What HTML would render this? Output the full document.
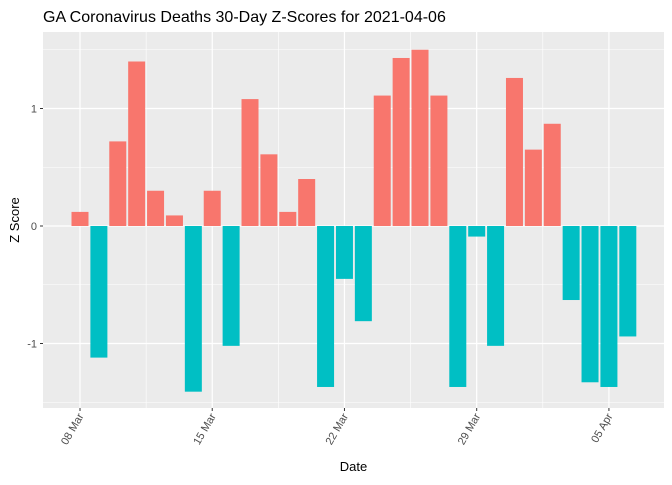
<!DOCTYPE html>
<html><head><meta charset="utf-8"><style>
body{margin:0;background:#fff;font-family:"Liberation Sans",sans-serif}
</style></head><body>
<svg id="c" width="672" height="480" xmlns="http://www.w3.org/2000/svg"></svg>
<script>
const values=[0.12,-1.12,0.72,1.40,0.30,0.09,-1.41,0.30,-1.02,1.08,0.61,0.12,0.40,-1.37,-0.45,-0.81,1.11,1.43,1.50,1.11,-1.37,-0.09,-1.02,1.26,0.65,0.87,-0.63,-1.33,-1.37,-0.94];
const yTicks=[-1,0,1];
const xTickLabels=["08 Mar","15 Mar","22 Mar","29 Mar","05 Apr"];
const xTickDays=[0,7,14,21,28];
const NS="http://www.w3.org/2000/svg";
const svg=document.getElementById('c');
const L=43,R=664,T=32,B=408;
const x=d=>80+d*18.89;
const y=v=>226-v*117.5;
function mk(t,a,p){const e=document.createElementNS(NS,t);for(const k in a)e.setAttribute(k,a[k]);(p||svg).appendChild(e);return e;}
const panel=mk('rect',{x:L,y:T,width:R-L,height:B-T,fill:'#ebebeb'});


// minor grid
for(const v of [-1.5,-0.5,0.5,1.5]){mk('line',{x1:L,x2:R,y1:y(v),y2:y(v),stroke:'#fff','stroke-width':0.6});}
for(let i=0;i<xTickDays.length+1;i++){const d=xTickDays[0]-3.5+i*7;const xx=x(d);if(xx>L&&xx<R)mk('line',{x1:xx,x2:xx,y1:T,y2:B,stroke:'#fff','stroke-width':0.6});}
// major grid
for(const v of yTicks){mk('line',{x1:L,x2:R,y1:y(v),y2:y(v),stroke:'#fff','stroke-width':1.2});}
for(const d of xTickDays){mk('line',{x1:x(d),x2:x(d),y1:T,y2:B,stroke:'#fff','stroke-width':1.2});}
// bars
values.forEach((v,i)=>{
 const r=mk('rect',{x:x(i)-8.5,width:17,y:Math.min(y(v),y(0)),height:Math.abs(y(v)-y(0)),fill:v>=0?'#f8766d':'#00bfc4'});
 
 
});
// y ticks
yTicks.forEach(v=>{
 mk('line',{x1:L-3,x2:L,y1:y(v),y2:y(v),stroke:'#333'});
 const t=mk('text',{x:L-6,y:y(v)+4,'text-anchor':'end','font-size':11,fill:'#4d4d4d'});t.textContent=v;
 
 
});
xTickDays.forEach((d,i)=>{
 mk('line',{x1:x(d),x2:x(d),y1:B,y2:B+3,stroke:'#333'});
 const t=mk('text',{x:x(d)+4,y:B+8,'text-anchor':'end','font-size':11,fill:'#4d4d4d',transform:`rotate(-60 ${x(d)+4} ${B+8})`});t.textContent=xTickLabels[i];
 
 
});
const tt=mk('text',{x:43,y:22,'font-size':16,fill:'#000'});tt.textContent='GA Coronavirus Deaths 30-Day Z-Scores for 2021-04-06';


const xt=mk('text',{x:(L+R)/2,y:471,'text-anchor':'middle','font-size':13});xt.textContent='Date';


const yt=mk('text',{x:19,y:(T+B)/2,'text-anchor':'middle','font-size':13,transform:`rotate(-90 19 ${(T+B)/2})`});yt.textContent='Z Score';


</script>
</body></html>
